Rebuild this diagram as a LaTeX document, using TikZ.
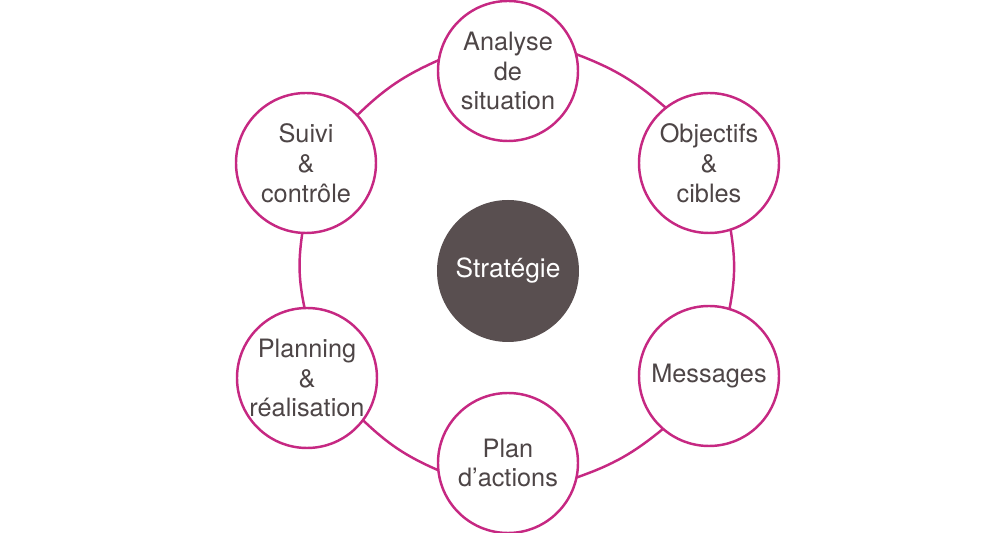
\documentclass[tikz,border=0pt]{standalone}
\usepackage{fontspec}
\setmainfont{TeX Gyre Heros}
\usepackage{tkz-graph}
\definecolor{myrose}{RGB}{198,40,130}
\definecolor{mybrown}{RGB}{89,79,80}
\definecolor{mygrey}{RGB}{77,69,70}

\begin{document}
\begin{tikzpicture}
\useasboundingbox (-10.16,-5.24) rectangle (9.84,5.42);
\GraphInit[vstyle=Normal]
\tikzset{VertexStyle/.style ={shape=circle, draw=myrose, line width=1.4pt, fill=white,
  minimum size=2.8cm, inner sep=0pt, align=center, text=mygrey,
  font=\fontsize{14.4}{17}\selectfont}}
\Vertex[x=0, y=4.0, L={Analyse\\de\\situation}]{An}
\Vertex[x=4.02, y=2.16, L={Objectifs\\\&\\cibles}]{Ob}
\Vertex[x=4.02, y=-2.1, L={Messages}]{Me}
\Vertex[x=0, y=-3.84, L={Plan\\d’actions}]{Pl}
\Vertex[x=-4.02, y=-2.14, L={Planning\\\&\\réalisation}]{Pg}
\Vertex[x=-4.04, y=2.16, L={Suivi\\\&\\contrôle}]{Su}
\tikzset{VertexStyle/.style ={shape=circle, fill=mybrown, minimum size=2.84cm,
  inner sep=0pt, text=white, font=\fontsize{15}{17}\selectfont}}
\Vertex[x=0, y=0, L={Stratégie}]{St}
\tikzset{EdgeStyle/.style ={line width=1.4pt, color=myrose, bend left=10}}
\Edge (An.14)(Ob.128)
\Edge (Ob.-72)(Me.73)
\Edge (Me.229)(Pl.-12)
\Edge (Pl.186)(Pg.-37)
\Edge (Pg.92)(Su.267)
\Edge (Su.43)(An.171)
\end{tikzpicture}
\end{document}
